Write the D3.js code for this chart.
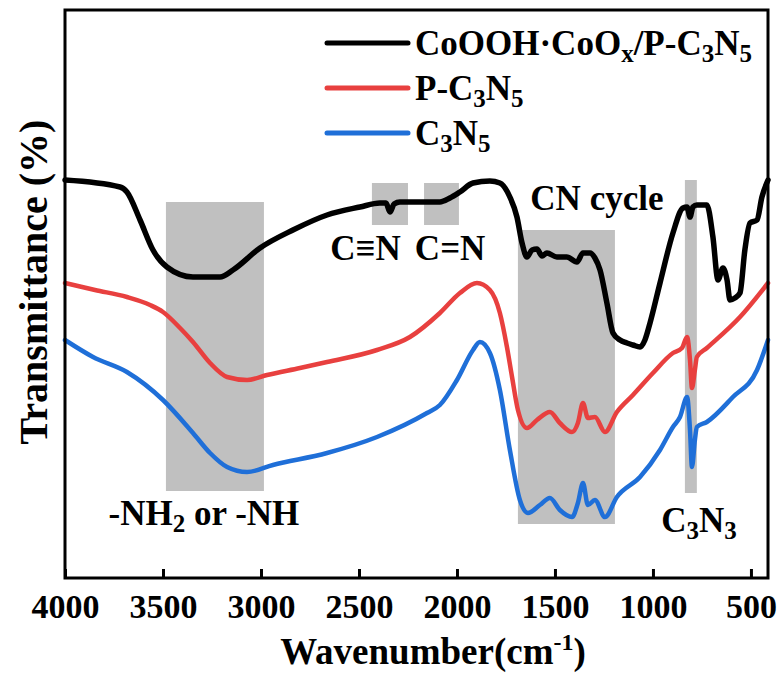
<!DOCTYPE html>
<html>
<head>
<meta charset="utf-8">
<script src="https://cdn.jsdelivr.net/npm/d3@7"></script>
<style>
  body { margin: 0; background: #fff; }
  svg { display: block; }
  svg text { font-family: "Liberation Serif", "DejaVu Serif", serif !important; font-weight: bold; }
</style>
</head>
<body>
<svg id="chart"></svg>
<script>
const width = 780
const height = 674

// Data (wavenumber in cm-1, transmittance in arbitrary offset units)
const compositeWn = [4000, 3719, 3684, 3617, 3551, 3480, 3347, 3209, 3143, 3005, 2837, 2663, 2495, 2393, 2362, 2342, 2321, 2291, 2189, 2087, 2036, 1985, 1918, 1832, 1781, 1730, 1694, 1668, 1643, 1617, 1592, 1566, 1541, 1490, 1439, 1388, 1357, 1321, 1296, 1270, 1235, 1204, 1168, 1133, 1102, 1066, 1041, 1015, 964, 898, 847, 826, 811, 796, 776, 725, 694, 668, 643, 622, 607, 582, 556, 531, 505, 469, 444, 413]
const compositeT = [79.6, 78.2, 77.2, 71.6, 65.6, 62.2, 60.2, 60.2, 61.6, 66, 69.6, 72.6, 74.2, 75, 75, 73.2, 74.8, 75.2, 75.2, 75.2, 76, 77.2, 79, 79.4, 79, 76.2, 72.2, 67, 64.2, 65.6, 65.8, 64.4, 65, 64.2, 64.2, 63.2, 65, 65, 64, 61.6, 55, 49, 47.6, 47, 46.6, 46.2, 47.6, 51, 59, 69, 74, 74.2, 72.2, 74.2, 74.6, 74.6, 68.2, 59.6, 62, 59.6, 55.6, 56, 57, 65.6, 71, 71.6, 76.2, 79.6]

const pc3n5Wn = [4000, 3847, 3684, 3566, 3500, 3413, 3347, 3260, 3173, 3071, 2969, 2801, 2663, 2408, 2240, 2087, 1985, 1898, 1832, 1781, 1745, 1719, 1689, 1643, 1592, 1526, 1475, 1413, 1383, 1357, 1332, 1296, 1245, 1184, 1102, 1000, 898, 852, 826, 811, 801, 786, 776, 725, 556, 413]
const pc3n5T = [59, 57.6, 56.2, 54.6, 53.2, 50, 47.2, 43, 40.2, 39.6, 40.6, 42, 43.2, 45.6, 48.2, 53, 57, 59, 57.6, 53, 46.2, 40.2, 33.6, 30, 31.6, 33.2, 31, 29.2, 31, 35, 32, 32.2, 29.2, 33.2, 36.6, 41, 45, 46, 48.2, 43.6, 38, 41.6, 44.2, 46, 52.2, 59]

const c3n5Wn = [4000, 3857, 3684, 3500, 3347, 3260, 3173, 3071, 2939, 2663, 2408, 2153, 2087, 2000, 1918, 1883, 1832, 1781, 1730, 1679, 1638, 1577, 1526, 1475, 1413, 1383, 1357, 1332, 1296, 1245, 1184, 1066, 964, 898, 862, 826, 811, 801, 786, 776, 725, 592, 469, 413]
const c3n5T = [47.6, 44.2, 41.2, 35.6, 29, 25, 22.2, 21.2, 22.6, 25, 28.2, 33, 34.6, 39.6, 45.6, 47.2, 45, 37.6, 25.6, 15.6, 13, 14.6, 16, 13.6, 12.2, 15, 19, 14.6, 15.6, 12.2, 16.2, 20.2, 25.6, 30.2, 32.2, 36.2, 29.6, 22.2, 27.6, 30.2, 31.2, 36.2, 41.6, 47.6]

const seriesNames = ["CoOOH·CoO_x/P-C_3N_5", "P-C_3N_5", "C_3N_5"]
const seriesColors = ["#000000", "#e8403f", "#1f6fd8"]

// Shaded band regions: from wn, to wn, top T, bottom T
const bandFrom = [3485, 2434, 2168, 1689, 837]
const bandTo = [2985, 2250, 1990, 1194, 776]
const bandTop = [75.2, 79, 79, 69.6, 79.6]
const bandBottom = [17.4, 70.6, 70.6, 10.8, 17]

const bandLabels = ["-NH_2 or -NH", "C≡N", "C=N", "CN cycle", "C_3N_3"]
const bandLabelWn = [3291, 2467, 2035, 1286, 765]
const bandLabelT = [10.6, 63.6, 63.6, 73.6, 9.2]

const xTicks = [4000, 3500, 3000, 2500, 2000, 1500, 1000, 500]

// Layout
const margin = { left: 65, right: 12, top: 10, bottom: 96 }
const innerW = width - margin.left - margin.right
const innerH = height - margin.top - margin.bottom

const svg = d3.select("#chart")
    .attr("width", width)
    .attr("height", height)
    .attr("font-family", "Liberation Serif")

const x = d3.scaleLinear()
    .domain([4000, 413])
    .range([margin.left, margin.left + innerW])

const y = d3.scaleLinear()
    .domain([0, 113.6])
    .range([margin.top + innerH, margin.top])

// write "A_bC" style strings with one-character subscripts
function addRich(textSel, str, subSize) {
    let parts = str.split(/(_.)/).filter(s => s.length)
    let shifted = false
    parts.forEach(p => {
        if (p[0] == "_") {
            textSel.append("tspan").text(p[1])
                .attr("font-size", subSize)
                .attr("dy", shifted ? 0 : 7)
            shifted = true
        } else {
            textSel.append("tspan").text(p)
                .attr("dy", shifted ? -7 : 0)
            shifted = false
        }
    })
}

// bands
svg.append("g")
    .selectAll("rect")
    .data(bandFrom.map((d, i) => i))
    .enter()
    .append("rect")
    .attr("x", i => x(bandFrom[i]))
    .attr("width", i => x(bandTo[i]) - x(bandFrom[i]))
    .attr("y", i => y(bandTop[i]))
    .attr("height", i => y(bandBottom[i]) - y(bandTop[i]))
    .attr("fill", "#c0c0c0")

// spectra
const series = [
    { wn: compositeWn, t: compositeT, width: 5.5 },
    { wn: pc3n5Wn, t: pc3n5T, width: 4.5 },
    { wn: c3n5Wn, t: c3n5T, width: 4.5 }
]

const line = d3.line()
    .x(d => x(d[0]))
    .y(d => y(d[1]))
    .curve(d3.curveMonotoneX)

svg.append("g")
    .selectAll("path")
    .data(series)
    .enter()
    .append("path")
    .attr("d", s => line(s.wn.map((w, i) => [w, s.t[i]])))
    .attr("fill", "none")
    .attr("stroke", (s, i) => seriesColors[i])
    .attr("stroke-width", s => s.width)
    .attr("stroke-linejoin", "round")
    .attr("stroke-linecap", "round")

// band labels
bandLabels.forEach((lab, i) => {
    let t = svg.append("text")
        .attr("x", x(bandLabelWn[i]))
        .attr("y", y(bandLabelT[i]))
        .attr("text-anchor", "middle")
        .attr("font-size", 35)
    addRich(t, lab, 25)
})

// frame
svg.append("rect")
    .attr("x", margin.left)
    .attr("y", margin.top)
    .attr("width", innerW)
    .attr("height", innerH)
    .attr("fill", "none")
    .attr("stroke", "#000")
    .attr("stroke-width", 3)

// x axis, ticks pointing inward
const xAxis = d3.axisBottom(x)
    .tickValues(xTicks)
    .tickSize(-9)
    .tickPadding(16)
    .tickFormat(d3.format("d"))

const gx = svg.append("g")
    .attr("transform", `translate(0,${margin.top + innerH})`)
    .call(xAxis)
gx.attr("font-family", null)
gx.select(".domain").remove()
gx.selectAll(".tick line").attr("stroke", "#000").attr("stroke-width", 3)
gx.selectAll(".tick text")
    .attr("font-size", 34)
    .attr("fill", "#000")

// axis titles
let xt = svg.append("text")
    .attr("x", 433)
    .attr("y", 664)
    .attr("text-anchor", "middle")
    .attr("font-size", 37)
xt.append("tspan").text("Wavenumber(cm")
xt.append("tspan").text("-1").attr("font-size", 24).attr("dy", -14)
xt.append("tspan").text(")").attr("dy", 14)

svg.append("text")
    .attr("transform", "translate(47,282) rotate(-90)")
    .attr("text-anchor", "middle")
    .attr("font-size", 40)
    .text("Transmittance (%)")

// legend
const legendY = [43, 88, 133]
const legend = svg.append("g")
seriesNames.forEach((name, i) => {
    legend.append("line")
        .attr("x1", 327).attr("x2", 408)
        .attr("y1", legendY[i]).attr("y2", legendY[i])
        .attr("stroke", seriesColors[i])
        .attr("stroke-width", 5)
        .attr("stroke-linecap", "round")
    let t = legend.append("text")
        .attr("x", 415)
        .attr("y", legendY[i] + 12)
        .attr("font-size", 35)
    addRich(t, name, 25)
})
</script>
</body>
</html>
